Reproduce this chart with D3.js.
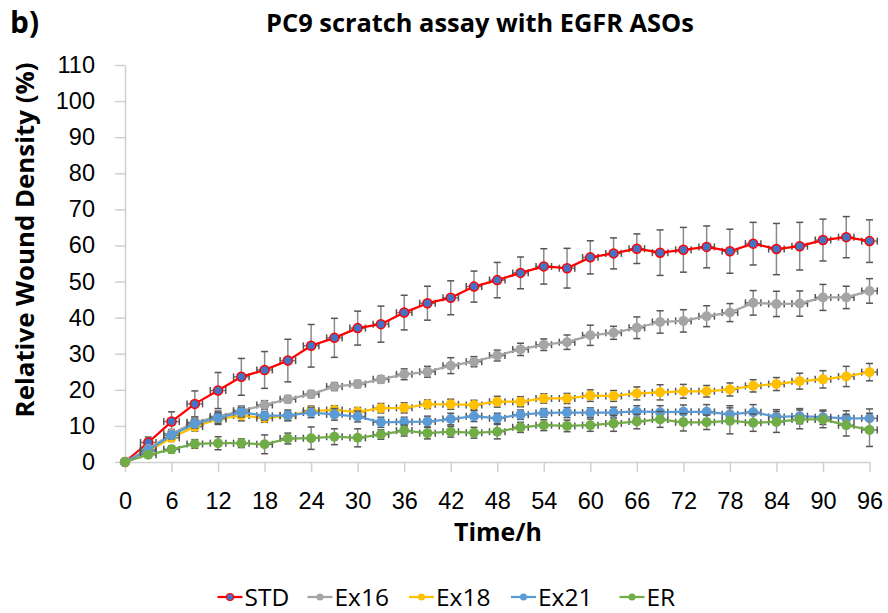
<!DOCTYPE html>
<html>
<head>
<meta charset="utf-8">
<script src="https://cdnjs.cloudflare.com/ajax/libs/d3/7.8.5/d3.min.js"></script>
<style>
  body { margin: 0; background: #fff; }
  svg { display: block; font-family: "Open Sans", "Noto Sans", sans-serif; }
</style>
</head>
<body>
<svg id="chart" width="888" height="613"></svg>
<script>
// data
var hours = d3.range(0, 97, 3);
var xTicks = [0, 6, 12, 18, 24, 30, 36, 42, 48, 54, 60, 66, 72, 78, 84, 90, 96];
var yTicks = [0, 10, 20, 30, 40, 50, 60, 70, 80, 90, 100, 110];
var seriesNames = ['STD', 'Ex16', 'Ex18', 'Ex21', 'ER'];

var std = [0, 5.4, 11.2, 16.1, 19.8, 23.6, 25.5, 28.1, 32.2, 34.4, 37.1, 38.2, 41.4, 44.0, 45.5, 48.6, 50.4, 52.4, 54.2, 53.7, 56.7, 57.8, 59.1, 58.0, 58.8, 59.6, 58.4, 60.5, 59.0, 59.8, 61.5, 62.3, 61.2];
var stdErr = [0, 1.5, 2.7, 3.6, 5.0, 5.1, 5.1, 5.9, 5.9, 5.4, 4.7, 5.0, 4.8, 4.7, 4.7, 4.3, 4.9, 4.4, 4.9, 5.5, 4.6, 4.3, 4.1, 6.3, 6.2, 5.8, 6.1, 5.9, 7.1, 6.6, 5.8, 5.7, 5.9];
var ex16 = [0, 3.6, 7.8, 11.0, 12.6, 14.2, 15.8, 17.4, 18.8, 20.9, 21.6, 22.9, 24.3, 25.0, 26.7, 27.8, 29.5, 31.2, 32.5, 33.2, 35.1, 35.8, 37.2, 38.8, 39.1, 40.4, 41.4, 44.1, 43.8, 43.9, 45.6, 45.6, 47.4];
var ex16Err = [0, 0.8, 1.2, 1.3, 1.5, 1.3, 1.2, 1.0, 1.0, 1.1, 1.0, 1.0, 1.5, 1.5, 2.2, 1.4, 1.5, 1.7, 1.6, 2.0, 2.8, 1.8, 3.0, 3.1, 3.1, 2.9, 2.5, 3.4, 3.5, 3.5, 3.6, 3.1, 3.4];
var ex18 = [0, 3.0, 6.7, 9.8, 11.9, 12.9, 12.2, 12.8, 14.2, 14.4, 13.9, 14.9, 15.0, 16.0, 16.0, 15.8, 16.7, 16.7, 17.6, 17.6, 18.4, 18.3, 19.0, 19.3, 19.6, 19.6, 20.1, 21.1, 21.6, 22.4, 22.9, 23.7, 24.9];
var ex18Err = [0, 0.8, 1.0, 1.2, 1.5, 1.5, 1.2, 1.2, 1.3, 1.2, 1.2, 1.3, 1.4, 1.2, 1.4, 1.3, 1.5, 1.4, 1.3, 1.4, 1.6, 1.5, 1.8, 2.1, 1.9, 1.6, 1.8, 1.7, 1.8, 2.2, 2.4, 2.8, 2.4];
var ex21 = [0, 3.3, 7.4, 10.6, 12.2, 13.8, 12.8, 12.9, 13.7, 13.2, 12.6, 11.0, 11.1, 11.2, 11.9, 12.7, 12.1, 13.1, 13.6, 13.7, 13.7, 13.7, 14.0, 13.8, 13.9, 13.9, 13.2, 13.8, 12.5, 12.7, 12.4, 12.1, 12.1];
var ex21Err = [0, 0.8, 1.0, 1.2, 1.5, 1.3, 1.2, 1.5, 1.4, 1.6, 1.5, 1.4, 1.3, 1.5, 1.6, 1.5, 1.4, 1.3, 1.2, 1.4, 1.3, 1.5, 1.6, 1.8, 1.9, 2.0, 2.4, 2.1, 2.0, 2.1, 2.0, 2.1, 2.6];
var er = [0, 2.0, 3.5, 5.0, 5.2, 5.2, 4.9, 6.5, 6.6, 7.0, 6.7, 7.6, 8.7, 8.0, 8.4, 8.1, 8.4, 9.6, 10.2, 10.0, 10.2, 10.7, 11.2, 11.8, 11.0, 11.0, 11.4, 10.9, 11.1, 11.8, 11.8, 10.2, 8.9];
var erErr = [0, 0.8, 1.0, 1.2, 1.8, 1.2, 2.6, 1.5, 3.1, 2.2, 2.5, 1.3, 1.5, 1.6, 1.5, 1.5, 2.0, 1.4, 1.5, 1.6, 1.7, 2.2, 2.0, 2.2, 2.4, 2.0, 3.6, 2.4, 2.9, 2.6, 2.3, 3.0, 4.6];
var xErr = 1; // horizontal error, hours

var colors = {STD: '#ff0000', Ex16: '#a5a5a5', Ex18: '#ffc000', Ex21: '#5b9bd5', ER: '#70ad47'};

var series = [
  {name: 'STD', values: std, err: stdErr},
  {name: 'Ex16', values: ex16, err: ex16Err},
  {name: 'Ex18', values: ex18, err: ex18Err},
  {name: 'Ex21', values: ex21, err: ex21Err},
  {name: 'ER', values: er, err: erErr}
];

var margin = {left: 125, right: 18.5, top: 65, bottom: 151};
var W = 888, H = 613;

var svg = d3.select('#chart');

var x = d3.scaleLinear().domain([0, 96]).range([margin.left, W - margin.right]);
var y = d3.scaleLinear().domain([0, 110]).range([H - margin.bottom, margin.top]);

// shrink/grow a text until it is as long as in the picture
function fitText(sel, target) {
  var w = sel.node().getComputedTextLength();
  var fs = parseFloat(sel.style('font-size'));
  sel.style('font-size', (fs * target / w) + 'px');
}

// axes
var xAxis = svg.append('g')
  .attr('transform', 'translate(0,' + y(0) + ')')
  .call(d3.axisBottom(x).tickValues(xTicks).tickSize(10).tickPadding(20).tickSizeOuter(0));
var yAxis = svg.append('g')
  .attr('transform', 'translate(' + x(0) + ',0)')
  .call(d3.axisLeft(y).tickValues(yTicks).tickSize(10).tickPadding(20).tickSizeOuter(0));
[xAxis, yAxis].forEach(function(a) {
  a.select('.domain').attr('stroke', '#d0d0d0').attr('stroke-width', 1.5);
  a.selectAll('.tick line').attr('stroke', '#d0d0d0').attr('stroke-width', 1.5);
  a.selectAll('.tick text').attr('fill', '#000').style('font-size', '23.5px');
});

// series
var line = d3.line()
  .x(function(d) { return x(d.h); })
  .y(function(d) { return y(d.v); });

series.forEach(function(s) {
  var pts = hours.map(function(h, i) { return {h: h, v: s.values[i], e: s.err[i]}; });
  var g = svg.append('g').attr('class', 'series');
  var c = colors[s.name];

  // vertical error bars
  var eb = g.selectAll('.ebar').data(pts.filter(function(d) { return d.e > 0; })).enter().append('g');
  eb.append('line')
    .attr('x1', function(d) { return x(d.h); }).attr('x2', function(d) { return x(d.h); })
    .attr('y1', function(d) { return y(d.v - d.e); }).attr('y2', function(d) { return y(d.v + d.e); })
    .attr('stroke', '#8a8a8a').attr('stroke-width', 1.5);
  [-1, 1].forEach(function(sg) {
    eb.append('line')
      .attr('x1', function(d) { return x(d.h) - 3.5; }).attr('x2', function(d) { return x(d.h) + 3.5; })
      .attr('y1', function(d) { return y(d.v + sg * d.e); }).attr('y2', function(d) { return y(d.v + sg * d.e); })
      .attr('stroke', '#555').attr('stroke-width', 1.5);
  });
  // horizontal error bars
  var hb = g.selectAll('.hbar').data(pts.slice(1)).enter().append('g');
  hb.append('line')
    .attr('x1', function(d) { return x(d.h - xErr); }).attr('x2', function(d) { return x(d.h + xErr); })
    .attr('y1', function(d) { return y(d.v); }).attr('y2', function(d) { return y(d.v); })
    .attr('stroke', '#777').attr('stroke-width', 1.5);
  [-1, 1].forEach(function(sg) {
    hb.append('line')
      .attr('x1', function(d) { return x(d.h + sg * xErr); }).attr('x2', function(d) { return x(d.h + sg * xErr); })
      .attr('y1', function(d) { return y(d.v) - 3.5; }).attr('y2', function(d) { return y(d.v) + 3.5; })
      .attr('stroke', '#555').attr('stroke-width', 1.5);
  });

  g.append('path').datum(pts)
    .attr('d', line).attr('fill', 'none')
    .attr('stroke', c).attr('stroke-width', 2.25).attr('stroke-linejoin', 'round');

  g.selectAll('circle').data(pts).enter().append('circle')
    .attr('cx', function(d) { return x(d.h); })
    .attr('cy', function(d) { return y(d.v); })
    .attr('r', s.name === 'STD' ? 4.5 : 5)
    .attr('fill', s.name === 'STD' ? '#4472c4' : c)
    .attr('stroke', s.name === 'STD' ? '#ff0000' : 'none')
    .attr('stroke-width', 1.5);
});

// titles
var panel = svg.append('text').attr('x', 10).attr('y', 33)
  .style('font-size', '30px').style('font-weight', 'bold').text('b)');
fitText(panel, 29);
var title = svg.append('text').attr('x', 480).attr('y', 32).attr('text-anchor', 'middle')
  .style('font-size', '25px').style('font-weight', 'bold').text('PC9 scratch assay with EGFR ASOs');
fitText(title, 428);
var yLabel = svg.append('text')
  .attr('transform', 'translate(34,240) rotate(-90)')
  .attr('text-anchor', 'middle')
  .style('font-size', '25px').style('font-weight', 'bold').text('Relative Wound Density (%)');
fitText(yLabel, 355);
var xLabel = svg.append('text').attr('x', 498).attr('y', 541).attr('text-anchor', 'middle')
  .style('font-size', '25px').style('font-weight', 'bold').text('Time/h');
fitText(xLabel, 88);

// legend
var legendX = [217.5, 307.5, 409, 511, 619.5];
var legendY = 597;
var lg = svg.append('g').selectAll('g').data(series).enter().append('g')
  .attr('transform', function(d, i) { return 'translate(' + legendX[i] + ',' + legendY + ')'; });
lg.append('line').attr('x1', 0).attr('x2', 25).attr('y1', 0).attr('y2', 0)
  .attr('stroke', function(d) { return colors[d.name]; }).attr('stroke-width', 2.25);
lg.append('circle').attr('cx', 12.5).attr('cy', 0).attr('r', 3.5)
  .attr('fill', function(d) { return d.name === 'STD' ? '#4472c4' : colors[d.name]; })
  .attr('stroke', function(d) { return d.name === 'STD' ? '#ff0000' : 'none'; })
  .attr('stroke-width', 1.2);
lg.append('text').attr('x', 27).attr('y', 8.5)
  .style('font-size', '24.5px').text(function(d) { return d.name; });
</script>
</body>
</html>
